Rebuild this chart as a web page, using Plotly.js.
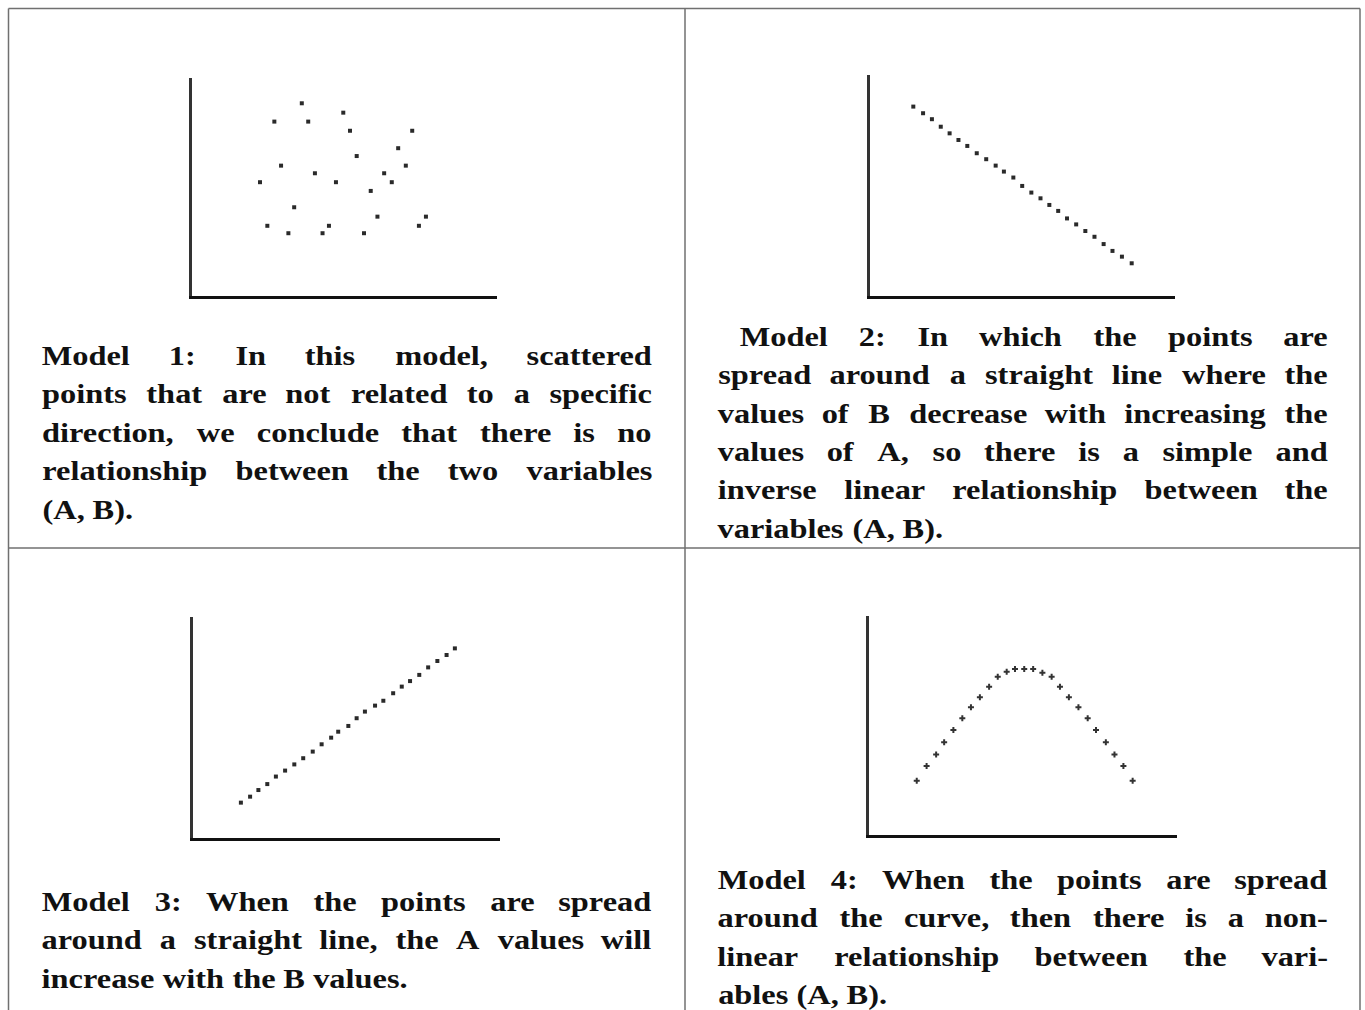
<!DOCTYPE html>
<html>
<head>
<meta charset="utf-8">
<script src="https://cdn.plot.ly/plotly-3.0.1.min.js"></script>
<style>
html, body { margin: 0; padding: 0; background: #fff; }
#chart { width: 1365px; height: 1010px; }
</style>
</head>
<body>
<div id="chart"></div>
<script>
// Model 1 - scattered points, no relation
var m1A = [3.60, 4.96, 2.70, 3.81, 5.18, 7.22, 6.76, 5.40, 2.92, 7.01, 4.03, 6.30, 2.23, 4.72, 6.55, 5.86, 3.35, 6.08, 7.67, 2.47, 4.49, 7.44, 3.16, 4.28, 5.64];
var m1B = [8.84, 8.41, 8.00, 8.00, 7.58, 7.58, 6.78, 6.42, 5.98, 5.98, 5.63, 5.63, 5.22, 5.22, 5.22, 4.82, 4.07, 3.64, 3.64, 3.22, 3.22, 3.22, 2.88, 2.88, 2.88];

// Model 2 - inverse linear
var m2A = [1.42, 1.74, 2.03, 2.32, 2.61, 2.90, 3.19, 3.50, 3.81, 4.12, 4.39, 4.70, 4.99, 5.29, 5.59, 5.88, 6.17, 6.46, 6.76, 7.06, 7.36, 7.66, 7.95, 8.26, 8.58];
var m2B = [8.57, 8.27, 8.00, 7.66, 7.36, 7.06, 6.79, 6.46, 6.19, 5.90, 5.63, 5.36, 4.98, 4.68, 4.42, 4.12, 3.85, 3.51, 3.24, 2.94, 2.68, 2.35, 2.04, 1.78, 1.48];

// Model 3 - direct linear
var m3A = [1.56, 1.86, 2.13, 2.42, 2.70, 3.00, 3.30, 3.59, 3.90, 4.19, 4.50, 4.73, 5.06, 5.33, 5.60, 5.93, 6.20, 6.52, 6.80, 7.07, 7.37, 7.66, 7.96, 8.26, 8.53];
var m3B = [1.60, 1.87, 2.17, 2.44, 2.78, 3.05, 3.33, 3.61, 3.91, 4.24, 4.54, 4.81, 5.07, 5.42, 5.72, 5.99, 6.21, 6.55, 6.85, 7.10, 7.38, 7.72, 8.01, 8.28, 8.58];

// Model 4 - curve
var m4A = [1.55, 1.87, 2.18, 2.44, 2.74, 3.03, 3.31, 3.60, 3.90, 4.18, 4.47, 4.74, 5.04, 5.33, 5.63, 5.93, 6.20, 6.49, 6.80, 7.10, 7.37, 7.69, 7.97, 8.26, 8.56];
var m4B = [2.48, 3.15, 3.68, 4.23, 4.79, 5.33, 5.83, 6.29, 6.77, 7.23, 7.46, 7.58, 7.58, 7.58, 7.41, 7.23, 6.77, 6.29, 5.83, 5.33, 4.79, 4.23, 3.68, 3.15, 2.48];

// captions, one entry per printed line
var cap1 = ['Model 1:  In this model, scattered',
            'points that are not related to a specific',
            'direction, we conclude that there is no',
            'relationship between the two variables',
            '(A, B).'];
var cap2 = ['Model 2:  In which the points are',
            'spread around a straight line where the',
            'values of B decrease with increasing the',
            'values of A, so there is a simple and',
            'inverse linear relationship between the',
            'variables (A, B).'];
var cap3 = ['Model 3: When the points are spread',
            'around a straight line, the A values will',
            'increase with the B values.'];
var cap4 = ['Model 4: When the points are spread',
            'around the curve, then there is a non-',
            'linear relationship between the vari-',
            'ables (A, B).'];

var W = 1365, H = 1010;
function px(x) { return x / W; }
function py(y) { return 1 - y / H; }

var FONT = 'Liberation Serif';
var FS = 27;
var canvas = document.createElement('canvas');
var ctx = canvas.getContext('2d');
ctx.font = 'bold ' + FS + 'px "' + FONT + '"';
function textW(s) { return ctx.measureText(s).width; }

var blocks = [
    {lines: cap1, left: 42, right: 652, top: 356, step: 38.4, indent: 0},
    {lines: cap2, left: 718, right: 1328, top: 337, step: 38.3, indent: 22},
    {lines: cap3, left: 42, right: 652, top: 902, step: 38.3, indent: 0},
    {lines: cap4, left: 718, right: 1328, top: 880, step: 38.3, indent: 0}
];

// the serif we have is narrower than the original face: stretch the glyphs
// so the tightest justified line just fills its column with plain spaces
var sx = 1.2;
blocks.forEach(function(b) {
    b.lines.forEach(function(l, i) {
        if (i == b.lines.length - 1) return;
        var avail = b.right - b.left - (i == 0 ? b.indent : 0);
        sx = Math.min(sx, avail / textW(l.replace(/\s+/g, ' ')));
    });
});
sx = Math.max(1, sx);
var space = textW(' ') * sx;

var annotations = [];
blocks.forEach(function(b) {
    b.lines.forEach(function(l, i) {
        var words = l.split(/\s+/);
        var x0 = b.left + (i == 0 ? b.indent : 0);
        var widths = words.map(function(w) { return textW(w) * sx; });
        var total = widths.reduce(function(a, c) { return a + c; }, 0);
        var gap = space;
        if (i < b.lines.length - 1 && words.length > 1)
            gap = (b.right - x0 - total) / (words.length - 1);
        var x = x0;
        words.forEach(function(w, k) {
            annotations.push({
                xref: 'paper', yref: 'paper',
                x: px(x + widths[k] / 2), y: py(b.top + i * b.step),
                xanchor: 'center', yanchor: 'middle',
                text: w, showarrow: false,
                font: {family: FONT, size: FS, color: '#111', weight: 'bold'}
            });
            x += widths[k] + gap;
        });
    });
});

var mk = {symbol: 'square', size: 4, color: '#2a2a2a'};
var data = [
    {x: m1A, y: m1B, xaxis: 'x', yaxis: 'y', type: 'scatter', mode: 'markers', marker: mk},
    {x: m2A, y: m2B, xaxis: 'x2', yaxis: 'y2', type: 'scatter', mode: 'markers', marker: mk},
    {x: m3A, y: m3B, xaxis: 'x3', yaxis: 'y3', type: 'scatter', mode: 'markers', marker: mk},
    {x: m4A, y: m4B, xaxis: 'x4', yaxis: 'y4', type: 'scatter', mode: 'markers',
     marker: {symbol: 'cross', size: 5, color: '#333'}}
];

function xax(l, r, anchor) {
    return {domain: [px(l), px(r)], range: [0, 10], anchor: anchor,
            showline: true, linecolor: '#111', linewidth: 3,
            showgrid: false, zeroline: false, showticklabels: false, ticks: '', fixedrange: true};
}
function yax(t, b, anchor) {
    return {domain: [py(b), py(t)], range: [0, 10], anchor: anchor,
            showline: true, linecolor: '#333', linewidth: 3,
            showgrid: false, zeroline: false, showticklabels: false, ticks: '', fixedrange: true};
}

var border = {color: '#707070', width: 1.5};
function seg(x0, y0, x1, y1) {
    return {type: 'line', xref: 'paper', yref: 'paper',
            x0: px(x0), y0: py(y0), x1: px(x1), y1: py(y1), line: border};
}

var layout = {
    width: W, height: H,
    margin: {l: 0, r: 0, t: 0, b: 0},
    paper_bgcolor: '#fff', plot_bgcolor: '#fff',
    showlegend: false,
    xaxis: xax(192, 497, 'y'), yaxis: yax(78, 296, 'x'),
    xaxis2: xax(870, 1175, 'y2'), yaxis2: yax(75, 296, 'x2'),
    xaxis3: xax(193, 500, 'y3'), yaxis3: yax(617, 838, 'x3'),
    xaxis4: xax(869, 1177, 'y4'), yaxis4: yax(616, 835, 'x4'),
    shapes: [
        seg(8.5, 8.5, 1360, 8.5),
        seg(8.5, 8.5, 8.5, 1012),
        seg(1360, 8.5, 1360, 1012),
        seg(685, 8.5, 685, 1012),
        seg(8.5, 548, 1360, 548)
    ],
    annotations: annotations
};

Plotly.newPlot('chart', data, layout, {staticPlot: true, displayModeBar: false}).then(function() {
    document.querySelectorAll('#chart .annotation-text').forEach(function(t) {
        t.style.transformBox = 'fill-box';
        t.style.transformOrigin = 'center';
        t.style.transform = 'scaleX(' + sx + ')';
    });
});
</script>
</body>
</html>
